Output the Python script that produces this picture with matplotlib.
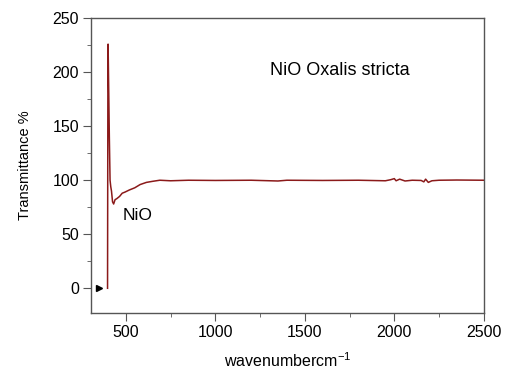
import matplotlib
matplotlib.use("Agg")
import matplotlib.pyplot as plt
from matplotlib.ticker import MultipleLocator

plt.rcParams['font.family'] = ['Liberation Sans', 'DejaVu Sans']
plt.rcParams['mathtext.fontset'] = 'custom'
plt.rcParams['mathtext.rm'] = 'Liberation Sans'

wavenumber = [398, 400, 401, 404, 408, 412, 416, 420, 426, 432, 440, 450, 465, 480,
              495, 520, 550, 580, 615, 650, 690, 750, 850, 1000, 1200, 1350, 1400,
              1600, 1800, 1950, 1980, 2000, 2010, 2030, 2060, 2100, 2150, 2165,
              2175, 2190, 2210, 2250, 2350, 2500]
transmittance = [0, 200, 226, 190, 140, 100, 94, 90, 80, 78, 82, 83, 85, 88,
                 89, 91, 93, 96, 98, 99, 100, 99.5, 100, 99.8, 100, 99.3, 100,
                 99.8, 100, 99.5, 100.5, 101.5, 99.5, 101, 99.3, 100, 99.8, 98.5,
                 101, 98, 99.5, 100, 100.2, 100]

fig = plt.figure(figsize=(5.05, 3.71), dpi=100)
ax = fig.add_axes([0.180, 0.156, 0.778, 0.795])
ax.plot(wavenumber, transmittance, color='#8B1A1A', lw=1.1)

ax.set_xlim(305, 2500)
ax.set_ylim(-23, 250)
ax.xaxis.set_major_locator(MultipleLocator(500))
ax.xaxis.set_minor_locator(MultipleLocator(250))
ax.yaxis.set_major_locator(MultipleLocator(50))
ax.yaxis.set_minor_locator(MultipleLocator(25))
ax.tick_params(which='both', direction='out', labelsize=11.5, top=False, right=False,
               color='#555555')
ax.tick_params(which='major', length=5.5, pad=3)
ax.tick_params(which='minor', length=3)
for s in ax.spines.values():
    s.set_color('#555555')
    s.set_linewidth(1.0)

ax.set_xlabel('wavenumbercm$^{\\mathrm{-1}}$', fontsize=11.5, labelpad=8)
ax.set_ylabel('Transmittance %', fontsize=10.5, labelpad=15)
ax.text(1305, 197, 'NiO Oxalis stricta', fontsize=13)
ax.text(480, 63, 'NiO', fontsize=12.5)
ax.plot([350], [0], marker='>', color='black', markersize=5)

fig.savefig('out.png', dpi=100)
